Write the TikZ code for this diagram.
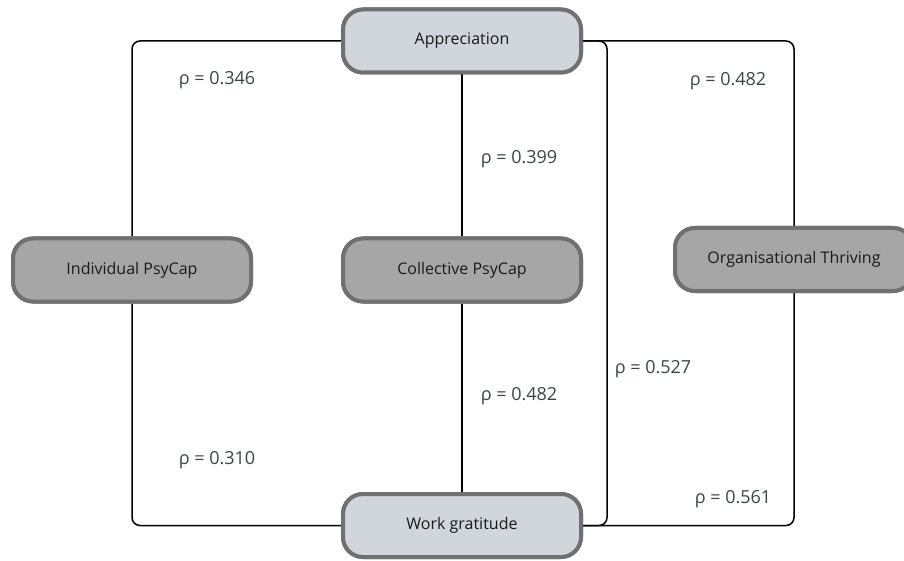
\documentclass[tikz,border=0pt]{standalone}
\usepackage{fontspec}
\setmainfont{Open Sans}
\definecolor{nodeborder}{HTML}{707070}
\definecolor{lightfill}{HTML}{D1D5DC}
\definecolor{darkfill}{HTML}{A6A6A6}
\definecolor{labelcol}{HTML}{3A4643}
\definecolor{nodetext}{HTML}{1A1A1A}
\tikzset{
  box/.style={draw=nodeborder, line width=4pt, rounded corners=20pt,
    minimum width=238pt, minimum height=63pt, inner sep=0pt,
    font=\fontsize{16pt}{18pt}\selectfont, text=nodetext},
  lightbox/.style={box, fill=lightfill},
  darkbox/.style={box, fill=darkfill},
  conn/.style={draw=black, line width=1.5pt, rounded corners=8pt},
  rholabel/.style={font=\fontsize{18pt}{20pt}\selectfont, text=labelcol, inner sep=0pt}
}
\begin{document}
\begin{tikzpicture}[x=1pt,y=-1pt]
\useasboundingbox (0,0) rectangle (904,561);
% node anchors (drawn first for connector ends)
\path
  (462,41)  node[lightbox] (app) {Appreciation}
  (132,270) node[darkbox]  (ind) {Individual PsyCap}
  (462,270) node[darkbox]  (col) {Collective PsyCap}
  (794,259.5) node[darkbox] (org) {Organisational Thriving}
  (462,525.5) node[lightbox] (wg) {Work gratitude};
\coordinate (vr) at (607,300);
% connectors
\path[conn] (app.west) -| (ind.north);
\path[conn] (ind.south) |- (wg.west);
\path[conn] (app.south) -- (col.north);
\path[conn] (col.south) -- (wg.north);
\path[conn] (app.east) -| (vr) |- (wg.east);
\path[conn] (app.east) -| (org.north);
\path[conn] (org.south) |- (wg.east);
% nodes again on top of the connectors
\path
  (462,41)  node[lightbox] {Appreciation}
  (132,270) node[darkbox]  {Individual PsyCap}
  (462,270) node[darkbox]  {Collective PsyCap}
  (794,259.5) node[darkbox] {Organisational Thriving}
  (462,525.5) node[lightbox] {Work gratitude};
% labels
\node[rholabel] (l1) at (217,80)  {ρ = 0.346};
\node[rholabel] (l2) at (519,159) {ρ = 0.399};
\node[rholabel] (l3) at (728,81)  {ρ = 0.482};
\node[rholabel] (l4) at (653,369) {ρ = 0.527};
\node[rholabel] (l5) at (519,396) {ρ = 0.482};
\node[rholabel] (l6) at (217,460) {ρ = 0.310};
\node[rholabel] (l7) at (733,499) {ρ = 0.561};
\end{tikzpicture}
\end{document}
